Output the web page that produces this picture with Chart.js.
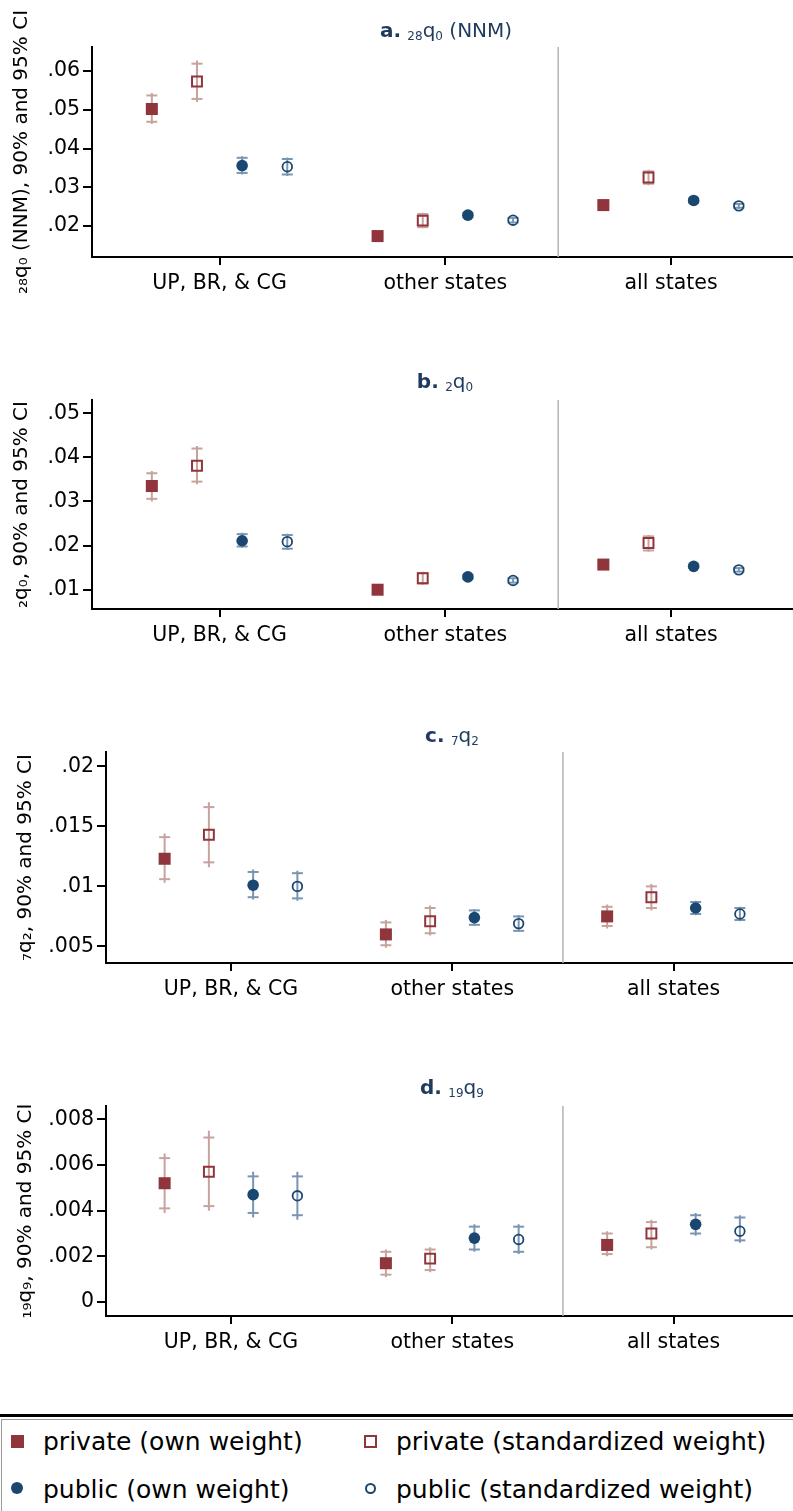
<!DOCTYPE html>
<html>
<head>
<meta charset="utf-8">
<script src="https://cdn.jsdelivr.net/npm/chart.js@4.4.1/dist/chart.umd.min.js"></script>
<style>
html,body{margin:0;padding:0;background:#fff;}
body{width:793px;height:1511px;position:relative;overflow:hidden;font-family:"DejaVu Sans",sans-serif;}
canvas.pc{position:absolute;left:0;}
.ttl{position:absolute;white-space:nowrap;color:#1f3a5f;font-size:20px;line-height:20px;transform:translateX(-50%);}
.ttl b{font-weight:bold;}
.ttl .sb{font-size:12px;position:relative;top:3px;}
#lgTop{position:absolute;left:0;top:1414px;width:793px;height:3px;background:#000;}
#lgBox{position:absolute;left:1px;top:1419px;width:792px;height:92px;border-left:1px solid #9a9a9a;border-top:1px solid #9a9a9a;box-sizing:border-box;}
.li{position:absolute;font-size:25px;line-height:25px;color:#000;white-space:nowrap;}
.mk{position:absolute;box-sizing:border-box;}
</style>
</head>
<body>
<div id="lgTop"></div>
<div id="lgBox"></div>
<script>
// ---------------- data ----------------
const categories = ['UP, BR, & CG', 'other states', 'all states'];
const categoryPos = [1, 2, 3];
const seriesNames = ['private (own weight)', 'private (standardized weight)', 'public (own weight)', 'public (standardized weight)'];

// each row (one per category): [estimate, lo90, hi90, lo95, hi95]
const a_privOwn = [[.0502,.0469,.0537,.0463,.0543],[.0174,.0168,.0180,.0167,.0181],[.0254,.0249,.0259,.0248,.0260]];
const a_privStd = [[.0573,.0528,.0619,.0520,.0627],[.0214,.0197,.0231,.0194,.0234],[.0325,.0309,.0341,.0305,.0345]];
const a_pubOwn  = [[.0356,.0337,.0376,.0333,.0380],[.0228,.0222,.0234,.0220,.0236],[.0266,.0261,.0271,.0259,.0273]];
const a_pubStd  = [[.0353,.0333,.0373,.0329,.0377],[.0215,.0209,.0221,.0207,.0223],[.0252,.0247,.0257,.0245,.0259]];

const b_privOwn = [[.0335,.0306,.0364,.0300,.0369],[.0100,.0096,.0104,.0095,.0105],[.0157,.0153,.0161,.0152,.0162]];
const b_privStd = [[.0381,.0345,.0420,.0339,.0426],[.0126,.0114,.0138,.0111,.0141],[.0206,.0189,.0221,.0186,.0224]];
const b_pubOwn  = [[.0211,.0198,.0226,.0195,.0229],[.0129,.0124,.0134,.0122,.0136],[.0153,.0149,.0157,.0148,.0158]];
const b_pubStd  = [[.0209,.0193,.0224,.0190,.0227],[.0121,.0116,.0126,.0115,.0127],[.0145,.0141,.0149,.0140,.0150]];

const c_privOwn = [[.0123,.0106,.0141,.0103,.0144],[.0060,.0051,.0070,.0049,.0072],[.0075,.0067,.0083,.0065,.0085]];
const c_privStd = [[.0143,.0120,.0166,.0116,.0170],[.0071,.0061,.0082,.0059,.0084],[.0091,.0082,.0100,.0080,.0102]];
const c_pubOwn  = [[.0101,.0091,.0112,.0089,.0114],[.0074,.0068,.0080,.0067,.0081],[.0082,.0077,.0087,.0076,.0088]];
const c_pubStd  = [[.0100,.0090,.0111,.0088,.0113],[.0069,.0063,.0075,.0062,.0076],[.0077,.0072,.0082,.0071,.0083]];

const d_privOwn = [[.0052,.0041,.0063,.0039,.0065],[.0017,.0012,.0022,.0011,.0023],[.0025,.0021,.0030,.0020,.0031]];
const d_privStd = [[.0057,.0042,.0072,.0040,.0075],[.0019,.0014,.0023,.0013,.0024],[.0030,.0024,.0035,.0023,.0036]];
const d_pubOwn  = [[.0047,.0039,.0055,.0037,.0057],[.0028,.0023,.0033,.0022,.0034],[.0034,.0030,.0038,.0029,.0039]];
const d_pubStd  = [[.00465,.0038,.0055,.0036,.0057],[.00274,.0022,.0033,.0021,.0034],[.0031,.0027,.0037,.0026,.0038]];

const a_yRange = [0.0120, 0.0662];
const b_yRange = [0.00563, 0.0530];
const c_yRange = [0.00362, 0.02119];
const d_yRange = [-0.00061, 0.00858];

const a_yTicks = [.02,.03,.04,.05,.06];      const a_yTickLabels = ['.02','.03','.04','.05','.06'];
const b_yTicks = [.01,.02,.03,.04,.05];      const b_yTickLabels = ['.01','.02','.03','.04','.05'];
const c_yTicks = [.005,.01,.015,.02];        const c_yTickLabels = ['.005','.01','.015','.02'];
const d_yTicks = [0,.002,.004,.006,.008];    const d_yTickLabels = ['0','.002','.004','.006','.008'];

const xRange = [0.435, 3.54];
const separatorAt = 2.5;

// ---------------- styles / layout ----------------
const MAROON = 'rgb(144,53,59)', NAVY = 'rgb(26,71,111)';
const CI_RED = 'rgb(198,163,157)', CI_BLUE = 'rgb(122,149,178)';
const NONE = 'rgba(0,0,0,0)';
const seriesStyle = [
  {shape:'rect',   fill:MAROON, stroke:MAROON, r:8.5, bw:0,   ci:CI_RED},
  {shape:'rect',   fill:NONE,   stroke:MAROON, r:7.0, bw:2,   ci:CI_RED},
  {shape:'circle', fill:NAVY,   stroke:NAVY,   r:5.8, bw:0,   ci:CI_BLUE},
  {shape:'circle', fill:NONE,   stroke:NAVY,   r:4.8, bw:1.8, ci:CI_BLUE}
];
const seriesOffset = [-0.3, -0.1, 0.1, 0.3];
const FONT = 'DejaVu Sans';

const panels = [
  {top:0,    height:317, padTop:47, leftW:92,  data:[a_privOwn,a_privStd,a_pubOwn,a_pubStd], yRange:a_yRange, yTicks:a_yTicks, yLabels:a_yTickLabels,
   yTitle:'₂₈q₀ (NNM), 90% and 95% CI', yTitlePad:10, title:'<b>a.</b> <span class="sb">28</span>q<span class="sb">0</span> (NNM)', titleCx:446, titleBase:37},
  {top:330,  height:339, padTop:70, leftW:92,  data:[b_privOwn,b_privStd,b_pubOwn,b_pubStd], yRange:b_yRange, yTicks:b_yTicks, yLabels:b_yTickLabels,
   yTitle:'₂q₀, 90% and 95% CI', yTitlePad:10, title:'<b>b.</b> <span class="sb">2</span>q<span class="sb">0</span>', titleCx:445, titleBase:388},
  {top:690,  height:333, padTop:62, leftW:106, data:[c_privOwn,c_privStd,c_pubOwn,c_pubStd], yRange:c_yRange, yTicks:c_yTicks, yLabels:c_yTickLabels,
   yTitle:'₇q₂, 90% and 95% CI', yTitlePad:14, title:'<b>c.</b> <span class="sb">7</span>q<span class="sb">2</span>', titleCx:452, titleBase:742},
  {top:1050, height:326, padTop:56, leftW:106, data:[d_privOwn,d_privStd,d_pubOwn,d_pubStd], yRange:d_yRange, yTicks:d_yTicks, yLabels:d_yTickLabels,
   yTitle:'₁₉q₉, 90% and 95% CI', yTitlePad:14, title:'<b>d.</b> <span class="sb">19</span>q<span class="sb">9</span>', titleCx:452, titleBase:1094}
];

const separatorPlugin = {
  id:'separator',
  beforeDatasetsDraw(chart){
    const {ctx, chartArea, scales} = chart;
    const x = scales.x.getPixelForValue(separatorAt);
    ctx.save();
    ctx.strokeStyle = '#b4b4b4';
    ctx.lineWidth = 1.5;
    ctx.beginPath();
    ctx.moveTo(x, chartArea.top);
    ctx.lineTo(x, chartArea.bottom);
    ctx.stroke();
    ctx.restore();
  }
};

function buildDatasets(seriesData){
  const ds = [];
  seriesData.forEach((rows, s) => {
    const st = seriesStyle[s], off = seriesOffset[s];
    const line = [], caps = [], pts = [];
    rows.forEach((r, g) => {
      const x = categoryPos[g] + off;
      line.push({x, y:r[3]}, {x, y:r[4]}, {x, y:null});
      caps.push({x, y:r[1]}, {x, y:r[2]});
      pts.push({x, y:r[0]});
    });
    ds.push({label:seriesNames[s]+' 95% CI', data:line, showLine:true, spanGaps:false, borderColor:st.ci, borderWidth:2, pointRadius:0, order:3});
    ds.push({label:seriesNames[s]+' 90% CI', data:caps, showLine:false, pointStyle:'line', pointRadius:5.5, pointBorderColor:st.ci, borderColor:st.ci, pointBorderWidth:2, order:2});
    ds.push({label:seriesNames[s], data:pts, showLine:false, pointStyle:st.shape, pointRadius:st.r,
             pointBackgroundColor:st.fill, backgroundColor:st.fill, pointBorderColor:st.stroke, borderColor:st.stroke, pointBorderWidth:st.bw, order:1});
  });
  return ds;
}

panels.forEach(p => {
  const cv = document.createElement('canvas');
  cv.className = 'pc';
  cv.width = 793; cv.height = p.height;
  cv.style.top = p.top + 'px';
  cv.style.width = '793px'; cv.style.height = p.height + 'px';
  document.body.appendChild(cv);

  const t = document.createElement('div');
  t.className = 'ttl';
  t.innerHTML = p.title;
  t.style.left = p.titleCx + 'px';
  t.style.top = (p.titleBase - 17) + 'px';
  document.body.appendChild(t);

  new Chart(cv.getContext('2d'), {
    type:'scatter',
    data:{datasets:buildDatasets(p.data)},
    plugins:[separatorPlugin],
    options:{
      responsive:false, animation:false, devicePixelRatio:1, events:[],
      layout:{autoPadding:false, padding:{top:p.padTop, left:0, right:0, bottom:0}},
      plugins:{legend:{display:false}, tooltip:{enabled:false}, title:{display:false}},
      scales:{
        x:{type:'linear', min:xRange[0], max:xRange[1], offset:false,
           afterBuildTicks:(ax)=>{ ax.ticks = categoryPos.map(v=>({value:v})); },
           afterFit:(ax)=>{ ax.height = 60; },
           ticks:{callback:(v,i)=>categories[i], autoSkip:false, maxRotation:0, padding:6, color:'#000', font:{family:FONT, size:20.5}},
           grid:{drawOnChartArea:false, drawTicks:true, tickLength:8, color:'#000', lineWidth:2},
           border:{display:true, color:'#000', width:2}},
        y:{type:'linear', min:p.yRange[0], max:p.yRange[1],
           afterBuildTicks:(ax)=>{ ax.ticks = p.yTicks.map(v=>({value:v})); },
           afterFit:(ax)=>{ ax.width = p.leftW; },
           ticks:{callback:(v,i)=>p.yLabels[i], padding:3, color:'#000', font:{family:FONT, size:20.5}},
           grid:{drawOnChartArea:false, drawTicks:true, tickLength:9, color:'#000', lineWidth:2},
           border:{display:true, color:'#000', width:2},
           title:{display:true, text:p.yTitle, color:'#000', font:{family:FONT, size:20}, padding:{top:p.yTitlePad, bottom:0}}}
      }
    }
  });
});

// ---------------- legend ----------------
const legendCols = [43, 396], legendMarkX = [17, 370], legendBase = [1450, 1498], legendMarkY = [1441, 1488];
seriesNames.forEach((name, s) => {
  const col = s % 2, row = Math.floor(s / 2);
  const st = seriesStyle[s];
  const mk = document.createElement('div');
  mk.className = 'mk';
  const size = st.shape === 'rect' ? 13 : (st.bw ? 11 : 12);
  mk.style.width = size + 'px'; mk.style.height = size + 'px';
  mk.style.left = (legendMarkX[col] - size/2) + 'px';
  mk.style.top = (legendMarkY[row] - size/2) + 'px';
  mk.style.background = st.fill;
  if (st.bw) mk.style.border = (st.bw + 0.5) + 'px solid ' + st.stroke;
  if (st.shape === 'circle') mk.style.borderRadius = '50%';
  document.body.appendChild(mk);
  const tx = document.createElement('div');
  tx.className = 'li';
  tx.textContent = name;
  tx.style.left = legendCols[col] + 'px';
  tx.style.top = (legendBase[row] - 21) + 'px';
  document.body.appendChild(tx);
});
</script>
</body>
</html>
